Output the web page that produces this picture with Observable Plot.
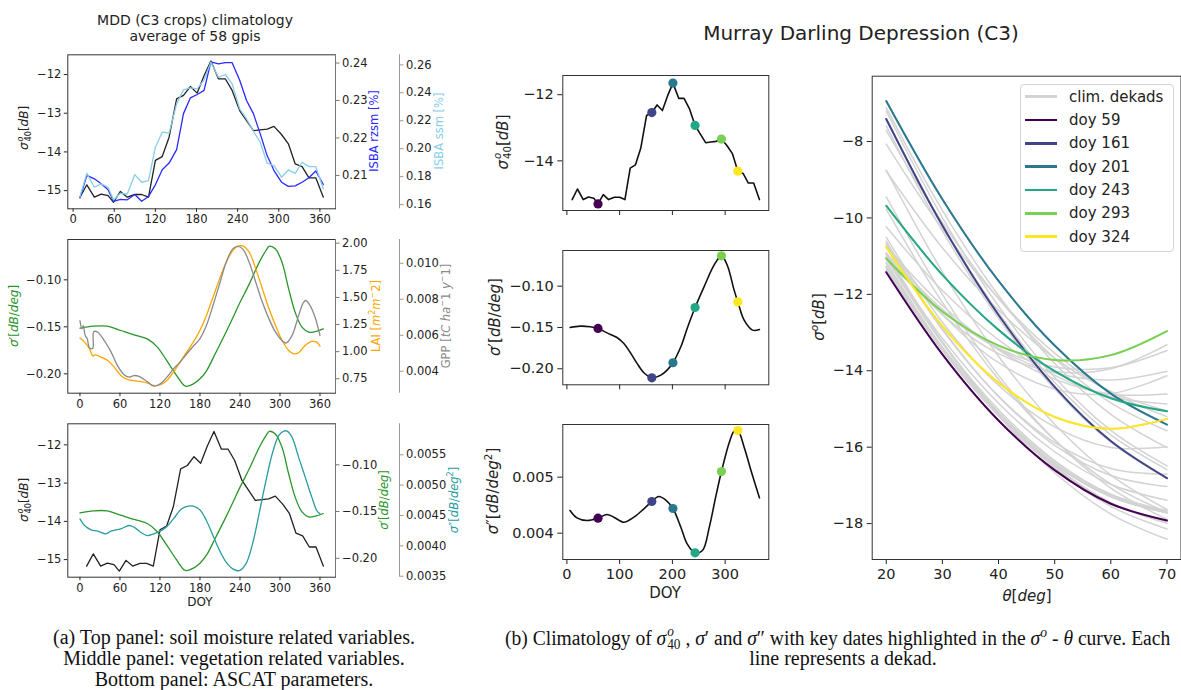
<!DOCTYPE html>
<html><head><meta charset="utf-8">
<script src="https://cdn.jsdelivr.net/npm/d3@7"></script>
<script src="https://cdn.jsdelivr.net/npm/@observablehq/plot@0.6"></script>
<style>
body{margin:0;background:#fff;}
#fig{position:relative;width:1181px;height:690px;overflow:hidden;font-family:"DejaVu Sans",sans-serif;color:#222;background:#fff}
.ss{display:inline-block;vertical-align:-0.34em;font-size:0.68em;line-height:1;text-align:left;margin-left:1px}
.ss span{display:block}
.ss .sp{font-style:italic}
.cap{position:absolute;font-family:"Liberation Serif",serif;font-size:20px;white-space:nowrap;color:#111;line-height:21px}
.leg{position:absolute;left:1020px;top:84px;width:152px;height:166px;border:1px solid #d5d5d5;border-radius:4px;background:rgba(255,255,255,0.85)}
</style></head>
<body><div id="fig"></div>
<script>
// ---------- data ----------
const dekDoy = [10,20,31,41,51,59,69,79,90,100,110,120,130,140,151,161,171,181,191,201,212,222,232,243,253,263,273,283,293,304,314,324,334,344,354,365];
const sig40 = [-15.17,-14.85,-15.17,-15.09,-15.13,-15.30,-15.02,-15.17,-15.10,-15.10,-15.17,-14.22,-14.12,-13.62,-12.63,-12.54,-12.31,-12.48,-12.03,-11.65,-12.11,-12.11,-12.41,-12.93,-13.19,-13.45,-13.43,-13.41,-13.34,-13.55,-13.79,-14.31,-14.38,-14.67,-14.67,-15.17];
const rzsm = [0.2040,0.2100,0.2091,0.2078,0.2062,0.2031,0.2036,0.2035,0.2049,0.2031,0.2044,0.2075,0.2115,0.2133,0.2169,0.2265,0.2307,0.2316,0.2327,0.2403,0.2398,0.2401,0.2401,0.2354,0.2300,0.2265,0.2211,0.2153,0.2113,0.2082,0.2071,0.2072,0.2082,0.2094,0.2112,0.2076];
const ssm = [0.1657,0.1824,0.1724,0.1748,0.1724,0.1633,0.1681,0.1676,0.1815,0.1760,0.1772,0.2011,0.2118,0.2111,0.2321,0.2421,0.2435,0.2428,0.2493,0.2619,0.2511,0.2531,0.2464,0.2285,0.2213,0.2125,0.2046,0.1896,0.1879,0.1796,0.1848,0.1824,0.1903,0.1872,0.1872,0.1712];

const sig1LeftDoy = [0,20,41,61,81,101,116,130,145,158,170,180,190,204,219,229,239,254,269,279,284,293,303,313,323,333,343,353,365];
const sig1LeftVal = [-0.1514,-0.1493,-0.1493,-0.1539,-0.1585,-0.1628,-0.1716,-0.1858,-0.2018,-0.2131,-0.2106,-0.2053,-0.1965,-0.177,-0.1557,-0.1408,-0.1255,-0.1043,-0.0812,-0.0688,-0.0642,-0.067,-0.0812,-0.1096,-0.1351,-0.1504,-0.1557,-0.155,-0.1521];

const laiDoy = [0,6.9,14.3,19.3,22.7,31.6,41.5,51.4,61.2,71.1,81,90.9,100.7,110.6,120.5,130.4,140.2,150.1,160,169.9,179.8,189.6,199.5,209.4,219.3,229.1,236.5,244,253.8,263.7,273.6,283.5,293.3,303.2,313.1,320.5,327.9,337.8,347.7,355.1,360];
const laiVal = [1.125,1.088,1.026,0.959,0.971,0.950,0.919,0.857,0.781,0.744,0.732,0.725,0.713,0.689,0.695,0.735,0.811,0.904,0.996,1.088,1.195,1.334,1.502,1.671,1.825,1.932,1.972,1.975,1.917,1.763,1.579,1.395,1.241,1.103,1.011,0.980,0.990,1.057,1.094,1.088,1.051];

const gppDoy = [0,3,4.9,7.9,10.9,13.8,17.8,19.8,20.7,26.7,36.5,46.4,56.3,66.2,73.6,81,88.4,100.7,110.6,120.5,130.4,140.2,150.1,160,169.9,179.8,189.6,199.5,209.4,219.3,229.1,236.5,244,253.8,263.7,273.6,283.5,293.3,303.2,309.1,318,327.9,335.3,338.8,345.2,352.6,360];
const gppVal = [0.00681,0.00635,0.00654,0.00598,0.0058,0.00533,0.00524,0.00533,0.0062,0.00617,0.0057,0.00509,0.00431,0.0038,0.00367,0.00376,0.00372,0.00343,0.00317,0.0033,0.00367,0.00413,0.0045,0.00496,0.00539,0.0058,0.00654,0.00765,0.00885,0.01006,0.0108,0.01094,0.0108,0.01006,0.00894,0.00783,0.00691,0.00617,0.0057,0.00557,0.00598,0.00709,0.00783,0.00793,0.00765,0.007,0.00598];

const sig2LeftDoy = [0,6.9,16.8,26.7,39,46.4,61.2,73.6,81,90.9,100.7,110.6,120.5,130.4,140.2,152.6,162.5,169.9,179.8,189.6,199.5,209.4,219.3,229.1,239,248.9,258.8,268.6,278.5,288.4,298.3,305.7,310.6,318,327.9,337.8,347.7,355.1,360];
const sig2LeftVal = [0.004445,0.004335,0.004264,0.004242,0.004198,0.004242,0.00428,0.004335,0.004308,0.004225,0.00417,0.004198,0.004242,0.004319,0.004445,0.00461,0.004654,0.004654,0.004593,0.004418,0.00417,0.003923,0.003731,0.003621,0.003593,0.003703,0.004033,0.004527,0.005049,0.005516,0.005819,0.00589,0.00589,0.005791,0.005462,0.005132,0.004802,0.004582,0.004527];

const sig1MidDoy = [6,25,44,59,76,95,108,120,133,146,161,178,190,201,216,228,243,260,279,293,304,317,324,336,352,365];
const sig1MidVal = [-0.150,-0.1484,-0.1492,-0.1512,-0.1565,-0.1621,-0.1694,-0.1802,-0.1935,-0.2048,-0.2109,-0.2077,-0.2016,-0.1927,-0.1734,-0.1512,-0.1258,-0.1008,-0.0746,-0.0633,-0.0746,-0.1048,-0.119,-0.1411,-0.1532,-0.1524];
const sig2MidDoy = [6,19,38,59,76,89,108,127,146,161,174,187,201,216,228,243,257,270,282,293,308,317,324,336,349,365];
const sig2MidVal = [0.004405,0.004274,0.004226,0.004268,0.004333,0.004286,0.004196,0.004286,0.004435,0.004565,0.004655,0.004595,0.00444,0.004107,0.00381,0.003649,0.00369,0.004107,0.004643,0.005101,0.005625,0.005821,0.005833,0.005536,0.005119,0.004631];

const hlDoy = [59,161,201,243,293,324];
const hlColors = ["#440154","#414487","#2a788e","#22a884","#7ad151","#fde725"];

const thetas = [20,30,40,50,60,70];
const climCurves = [
[-11.30,-13.46,-15.17,-16.45,-17.29,-17.70],
[-11.02,-13.15,-14.85,-16.12,-16.97,-17.39],
[-11.35,-13.47,-15.17,-16.45,-17.30,-17.72],
[-11.26,-13.39,-15.09,-16.37,-17.23,-17.66],
[-11.28,-13.42,-15.13,-16.42,-17.28,-17.72],
[-11.42,-13.57,-15.30,-16.60,-17.48,-17.92],
[-11.07,-13.26,-15.02,-16.35,-17.25,-17.71],
[-11.16,-13.38,-15.17,-16.53,-17.45,-17.95],
[-11.03,-13.28,-15.10,-16.49,-17.46,-17.99],
[-10.96,-13.24,-15.10,-16.54,-17.55,-18.14],
[-10.90,-13.25,-15.17,-16.67,-17.75,-18.41],
[-9.77,-12.21,-14.22,-15.81,-16.97,-17.71],
[-9.45,-12.00,-14.12,-15.81,-17.07,-17.89],
[-8.75,-11.41,-13.62,-15.40,-16.73,-17.63],
[-7.59,-10.34,-12.63,-14.48,-15.87,-16.82],
[-7.41,-10.20,-12.54,-14.42,-15.84,-16.81],
[-7.20,-9.99,-12.31,-14.17,-15.56,-16.49],
[-7.43,-10.19,-12.48,-14.31,-15.68,-16.59],
[-7.11,-9.80,-12.03,-13.81,-15.14,-16.01],
[-6.94,-9.51,-11.65,-13.34,-14.60,-15.41],
[-7.71,-10.12,-12.11,-13.68,-14.84,-15.57],
[-8.07,-10.29,-12.11,-13.54,-14.56,-15.20],
[-8.77,-10.78,-12.41,-13.67,-14.54,-15.05],
[-9.68,-11.49,-12.93,-14.01,-14.72,-15.06],
[-10.23,-11.90,-13.19,-14.12,-14.68,-14.87],
[-10.74,-12.29,-13.45,-14.22,-14.61,-14.61],
[-10.92,-12.39,-13.43,-14.05,-14.24,-14.01],
[-11.03,-12.45,-13.41,-13.90,-13.92,-13.47],
[-11.06,-12.45,-13.34,-13.72,-13.59,-12.96],
[-10.96,-12.53,-13.55,-14.02,-13.95,-13.32],
[-10.68,-12.52,-13.79,-14.48,-14.60,-14.13],
[-10.76,-12.83,-14.31,-15.21,-15.52,-15.26],
[-10.51,-12.73,-14.38,-15.47,-16.01,-15.99],
[-10.67,-12.93,-14.67,-15.88,-16.56,-16.71],
[-10.61,-12.89,-14.67,-15.95,-16.74,-17.03],
[-11.19,-13.41,-15.17,-16.46,-17.29,-17.66]];

const xTicksLeft = [0,60,120,180,240,300,360];
const xTicksMid = [0,100,200,300];

// ---------- tables ----------
const dekTable = dekDoy.map((d,i)=>({doy:d, s40:sig40[i], rz:rzsm[i], ssm:ssm[i]}));
const pairs = (xs,ys)=>xs.map((x,i)=>({doy:x, v:ys[i]}));
const s1Left = pairs(sig1LeftDoy, sig1LeftVal);
const laiT = pairs(laiDoy, laiVal);
const gppT = pairs(gppDoy, gppVal);
const s2Left = pairs(sig2LeftDoy, sig2LeftVal);
const s1Mid = pairs(sig1MidDoy, sig1MidVal);
const s2Mid = pairs(sig2MidDoy, sig2MidVal);
const hlTable = hlDoy.map(d=>({doy:d,
  s40: sig40[dekDoy.indexOf(d)],
  s1: sig1MidVal[sig1MidDoy.indexOf(d)],
  s2: sig2MidVal[sig2MidDoy.indexOf(d)]}));
const climTable = [];
climCurves.forEach((row,i)=>row.forEach((v,j)=>climTable.push({dekad:dekDoy[i], theta:thetas[j], s0:v})));
const climHl = climTable.filter(d=>hlDoy.includes(d.dekad));

// ---------- helpers ----------
const fig = document.getElementById("fig");
const FONT = "DejaVu Sans, sans-serif";
function plotAt(box, frame, opts){
  const [L,T,W,H] = box, [fL,fT,fR,fB] = frame;
  const svg = Plot.plot({
    width: W, height: H,
    marginLeft: fL-L, marginRight: L+W-fR, marginTop: fT-T, marginBottom: T+H-fB,
    style:{background:"transparent", fontFamily:FONT, fontSize:(opts.fs||11.5)+"px", color:"#222", overflow:"visible"},
    x: opts.x, y: opts.y, color: opts.color, marks: opts.marks
  });
  svg.style.position="absolute"; svg.style.left=L+"px"; svg.style.top=T+"px";
  fig.appendChild(svg);
}
function txt(html, x, y, o={}){
  const d=document.createElement("div");
  d.innerHTML=html;
  d.style.cssText=`position:absolute;left:${x}px;top:${y}px;transform:translate(-50%,-50%)${o.rot?" rotate(-90deg)":""};white-space:nowrap;font-size:${o.size||12}px;color:${o.color||"#222"};line-height:1.1;font-family:${o.family||FONT}`;
  fig.appendChild(d); return d;
}
const f2 = d3.format(".2f"), f3 = d3.format(".3f"), f4 = d3.format(".4f"), fi = d3.format("d");
const BLK="#222", BLUE="#2a2aff", SKY="#87ceeb", ORG="#ffa500", GRY="#8a8a8a", GRN="#2a962a", TEAL="#2a9c9e";

// twin-axis left panel
function leftPanel(svgT, frame, xdom, base, twin, third){
  const box=[0,svgT,470,190];
  const ax = {tickSize:3.5, tickPadding:3, label:null};
  plotAt(box, frame, {x:{domain:xdom}, y:{domain:base.dom}, marks:[
    ...base.marks,
    Plot.axisX({...ax, ticks:xTicksLeft, tickFormat:fi}),
    Plot.axisY({...ax, ticks:base.ticks, tickFormat:base.fmt}),
    Plot.frame({stroke:"#333"})
  ]});
  plotAt(box, frame, {x:{domain:xdom, axis:null}, y:{domain:twin.dom}, marks:[
    ...twin.marks,
    Plot.ruleX([xdom[1]],{stroke:"#777"}),
    Plot.axisY({...ax, anchor:"right", ticks:twin.ticks, tickFormat:twin.fmt, stroke:"#777"})
  ]});
  plotAt(box, frame, {x:{domain:xdom, axis:null}, y:{domain:third.dom, axis:null}, marks: third.marks});
  plotAt([300,svgT,170,190], [340,frame[1],399,frame[3]], {x:{domain:[0,1], axis:null}, y:{domain:third.dom}, marks:[
    Plot.ruleX([1],{stroke:"#999"}),
    Plot.axisY({...ax, anchor:"right", ticks:third.ticks, tickFormat:third.fmt, stroke:"#999"})
  ]});
}

// ----- (a) top -----
leftPanel(44, [67.3,54.3,335,208.3], [-7.75,382.75],
  {dom:[-15.47,-11.49], ticks:[-12,-13,-14,-15], fmt:fi,
   marks:[Plot.line(dekTable,{x:"doy",y:"s40",stroke:BLK,strokeWidth:1.3})]},
  {dom:[0.2011,0.2422], ticks:[0.21,0.22,0.23,0.24], fmt:f2,
   marks:[Plot.line(dekTable,{x:"doy",y:"rz",stroke:BLUE,strokeWidth:1.3})]},
  {dom:[0.157,0.2672], ticks:[0.16,0.18,0.20,0.22,0.24,0.26], fmt:f2,
   marks:[Plot.line(dekTable,{x:"doy",y:"ssm",stroke:SKY,strokeWidth:1.3})]});
// ----- (a) middle -----
leftPanel(228, [67.3,239,335,392.7], [-18.25,383.25],
  {dom:[-0.2206,-0.0571], ticks:[-0.10,-0.15,-0.20], fmt:f2,
   marks:[Plot.line(s1Left,{x:"doy",y:"v",stroke:GRN,strokeWidth:1.3,curve:"catmull-rom"})]},
  {dom:[0.617,2.034], ticks:[0.75,1.00,1.25,1.50,1.75,2.00], fmt:f2,
   marks:[Plot.line(laiT,{x:"doy",y:"v",stroke:ORG,strokeWidth:1.3,curve:"catmull-rom"})]},
  {dom:[0.00278,0.01132], ticks:[0.004,0.006,0.008,0.010], fmt:f3,
   marks:[Plot.line(gppT,{x:"doy",y:"v",stroke:GRY,strokeWidth:1.3,curve:"catmull-rom"})]});
// ----- (a) bottom -----
leftPanel(412, [67.3,423.3,335,576.7], [-18.25,383.25],
  {dom:[-15.46,-11.45], ticks:[-12,-13,-14,-15], fmt:fi,
   marks:[Plot.line(dekTable,{x:"doy",y:"s40",stroke:BLK,strokeWidth:1.3})]},
  {dom:[-0.2203,-0.0561], ticks:[-0.10,-0.15,-0.20], fmt:f2,
   marks:[Plot.line(s1Left,{x:"doy",y:"v",stroke:GRN,strokeWidth:1.3,curve:"catmull-rom"})]},
  {dom:[0.003484,0.00601], ticks:[0.0035,0.0040,0.0045,0.0050,0.0055], fmt:f4,
   marks:[Plot.line(s2Left,{x:"doy",y:"v",stroke:TEAL,strokeWidth:1.3,curve:"catmull-rom"})]});

// ----- (b) middle column -----
const colorScale = {domain:hlDoy, range:hlColors};
function midPanel(box, frame, ydom, yticks, yfmt, line, ykey, showX){
  const ax = {tickSize:5, tickPadding:4, label:null};
  plotAt(box, frame, {fs:14.5, x:{domain:[-7.75,382.75]}, y:{domain:ydom}, color:colorScale, marks:[
    line,
    Plot.dot(hlTable,{x:"doy", y:ykey, fill:"doy", r:4.6}),
    Plot.axisX({...ax, ticks:xTicksMid, tickFormat: showX ? fi : ()=>""}),
    Plot.axisY({...ax, ticks:yticks, tickFormat:yfmt}),
    Plot.frame({stroke:"#333"})
  ]});
}
midPanel([480,65,300,165],[562.3,75,768.3,210],[-15.5,-11.42],[-12,-14],fi,
  Plot.line(dekTable,{x:"doy",y:"s40",stroke:"#111",strokeWidth:1.6}),"s40",false);
midPanel([480,240,300,165],[562.3,250,768.3,384.3],[-0.2194,-0.0568],[-0.10,-0.15,-0.20],f2,
  Plot.line(s1Mid,{x:"doy",y:"v",stroke:"#111",strokeWidth:1.6,curve:"catmull-rom"}),"s1",false);
midPanel([480,414,300,170],[562.3,424,768.3,559],[0.00353,0.00594],[0.004,0.005],f3,
  Plot.line(s2Mid,{x:"doy",y:"v",stroke:"#111",strokeWidth:1.6,curve:"catmull-rom"}),"s2",true);

// ----- (b) right panel -----
plotAt([800,65,381,520],[871.7,75.7,1180.5,559],{fs:14.5,
  x:{domain:[17.5,72.5]}, y:{domain:[-18.94,-6.29]}, color:colorScale, marks:[
  Plot.line(climTable,{x:"theta",y:"s0",z:"dekad",stroke:"#d3d3d3",strokeWidth:1.5,curve:"catmull-rom"}),
  Plot.line(climHl,{x:"theta",y:"s0",z:"dekad",stroke:"dekad",strokeWidth:2,curve:"catmull-rom"}),
  Plot.axisX({tickSize:5,tickPadding:4,label:null,ticks:[20,30,40,50,60,70],tickFormat:fi}),
  Plot.axisY({tickSize:5,tickPadding:4,label:null,ticks:[-8,-10,-12,-14,-16,-18],tickFormat:fi}),
  Plot.frame({stroke:"#333"})
]});

// legend
const leg=document.createElement("div"); leg.className="leg"; fig.appendChild(leg);
const legItems=[["clim. dekads","#d3d3d3"],...hlDoy.map((d,i)=>["doy "+d,hlColors[i]])];
legItems.forEach(([t,c],i)=>{
  const y=96.7+i*23.33;
  const s=document.createElement("div");
  s.style.cssText=`position:absolute;left:1025px;top:${y-1.25}px;width:32px;height:2.5px;background:${c}`;
  fig.appendChild(s);
  const d=document.createElement("div");
  d.textContent=t;
  d.style.cssText=`position:absolute;left:1069px;top:${y}px;transform:translateY(-50%);font-size:15px;white-space:nowrap;color:#222`;
  fig.appendChild(d);
});

// ---------- texts ----------
const S40 = '<i>σ</i><span class="ss"><span class="sp">o</span><span>40</span></span>';
txt("MDD (C3 crops) climatology", 195, 21, {size:14});
txt("average of 58 gpis", 195, 37, {size:14});
txt("Murray Darling Depression (C3)", 861, 33, {size:20});

txt(S40+"[<i>dB</i>]", 24, 128, {rot:true});
txt("ISBA rzsm [%]", 374, 131, {rot:true, color:BLUE, size:11.5});
txt("ISBA ssm [%]", 439, 131, {rot:true, color:SKY, size:11.5});
txt("<i>σ</i>′[<i>dB</i>/<i>deg</i>]", 15, 316, {rot:true, color:GRN});
txt("LAI [<i>m</i><sup style='font-size:0.7em'>2</sup><i>m</i><sup style='font-size:0.7em'>−</sup>2]", 376, 316, {rot:true, color:ORG, size:11.5});
txt("GPP [<i>tC ha</i><sup style='font-size:0.7em'>−</sup>1 <i>y</i><sup style='font-size:0.7em'>−</sup>1]", 446, 316, {rot:true, color:GRY, size:11.5});
txt(S40+"[<i>dB</i>]", 24, 500, {rot:true});
txt("<i>σ</i>′[<i>dB</i>/<i>deg</i>]", 384, 500, {rot:true, color:GRN, size:11.5});
txt("<i>σ</i>″[<i>dB</i>/<i>deg</i><sup style='font-size:0.7em'>2</sup>]", 454, 500, {rot:true, color:TEAL, size:11.5});
txt("DOY", 200, 603, {size:12});

txt(S40+"[<i>dB</i>]", 503, 142, {rot:true, size:15});
txt("<i>σ</i>′[<i>dB</i>/<i>deg</i>]", 495, 317, {rot:true, size:15});
txt("<i>σ</i>″[<i>dB</i>/<i>deg</i><sup style='font-size:0.7em'>2</sup>]", 492, 491, {rot:true, size:15});
txt("DOY", 665, 593, {size:15});
txt("<i>σ<sup style='font-size:0.7em'>o</sup></i>[<i>dB</i>]", 818, 317, {rot:true, size:15});
txt("<i>θ</i>[<i>deg</i>]", 1027, 596, {size:15});

// captions
function cap(html, x, y, mode){
  const d=document.createElement("div"); d.className="cap"; d.innerHTML=html;
  d.style.left=x+"px"; d.style.top=y+"px";
  if (mode==="center") d.style.transform="translate(-50%,-50%)";
  else { d.style.transformOrigin="0 50%"; d.style.transform="translateY(-50%) scaleX(0.978)"; }
  fig.appendChild(d);
}
cap("(a) Top panel: soil moisture related variables.", 234, 637, "center");
cap("Middle panel: vegetation related variables.", 234, 658, "center");
cap("Bottom panel: ASCAT parameters.", 234, 679, "center");
cap("(b) Climatology of "+S40+" , <i>σ</i>′ and <i>σ</i>″ with key dates highlighted in the <i>σ<sup style='font-size:0.7em'>o</sup></i> - <i>θ</i> curve. Each", 505, 637, "left");
cap("line represents a dekad.", 843, 658, "center");
</script></body></html>
